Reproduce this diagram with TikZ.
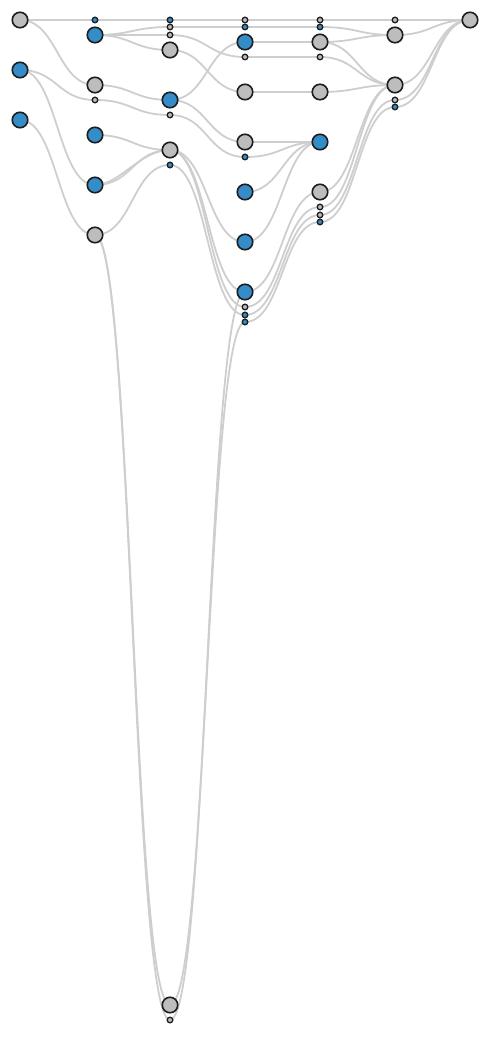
\documentclass[tikz,border=0pt]{standalone}
\usetikzlibrary{backgrounds}
\definecolor{nblue}{RGB}{52,140,201}
\definecolor{ngray}{RGB}{189,189,189}
\definecolor{edgec}{RGB}{206,206,206}
\definecolor{nstroke}{RGB}{30,30,30}
\tikzset{
  big/.style={circle, draw=nstroke, line width=1.6pt, minimum size=15.5pt, inner sep=0pt},
  sm/.style={circle, draw=nstroke, line width=1.3pt, minimum size=5.6pt, inner sep=0pt},
  bl/.style={fill=nblue},
  gr/.style={fill=ngray},
  link/.style={draw=edgec, line width=1.8pt}
}
\newcommand\lnk[2]{\draw[link] (#1.center) .. controls ([xshift=37.5pt]#1.center) and ([xshift=-37.5pt]#2.center) .. (#2.center);}
\begin{document}
\begin{tikzpicture}[x=1pt,y=-1pt]
\useasboundingbox (0,0) rectangle (490,1040);
% column A
\node[big,gr] (A20) at (20,20) {};
\node[big,bl] (A70) at (20,70) {};
\node[big,bl] (A120) at (20,120) {};
% column B
\node[sm,bl] (B20) at (95,20) {};
\node[big,bl] (B35) at (95,35) {};
\node[big,gr] (B85) at (95,85) {};
\node[sm,gr] (B100) at (95,100) {};
\node[big,bl] (B135) at (95,135) {};
\node[big,bl] (B185) at (95,185) {};
\node[big,gr] (B235) at (95,235) {};
% column C
\node[sm,bl] (C20) at (170,20) {};
\node[sm,gr] (C27) at (170,27) {};
\node[sm,gr] (C35) at (170,35) {};
\node[big,gr] (C50) at (170,50) {};
\node[big,bl] (C100) at (170,100) {};
\node[sm,gr] (C115) at (170,115) {};
\node[big,gr] (C150) at (170,150) {};
\node[sm,bl] (C165) at (170,165) {};
\node[big,gr] (C1005) at (170,1005) {};
\node[sm,gr] (C1020) at (170,1020) {};
% column D
\node[sm,gr] (D20) at (245,20) {};
\node[sm,bl] (D27) at (245,27) {};
\node[big,bl] (D42) at (245,42) {};
\node[sm,gr] (D57) at (245,57) {};
\node[big,gr] (D92) at (245,92) {};
\node[big,gr] (D142) at (245,142) {};
\node[sm,bl] (D157) at (245,157) {};
\node[big,bl] (D192) at (245,192) {};
\node[big,bl] (D242) at (245,242) {};
\node[big,bl] (D292) at (245,292) {};
\node[sm,gr] (D307) at (245,307) {};
\node[sm,bl] (D315) at (245,315) {};
\node[sm,bl] (D322) at (245,322) {};
% column E
\node[sm,gr] (E20) at (320,20) {};
\node[sm,bl] (E27) at (320,27) {};
\node[big,gr] (E42) at (320,42) {};
\node[sm,gr] (E57) at (320,57) {};
\node[big,gr] (E92) at (320,92) {};
\node[big,bl] (E142) at (320,142) {};
\node[big,gr] (E192) at (320,192) {};
\node[sm,gr] (E207) at (320,207) {};
\node[sm,gr] (E215) at (320,215) {};
\node[sm,bl] (E222) at (320,222) {};
% column F
\node[sm,gr] (F20) at (395,20) {};
\node[big,gr] (F35) at (395,35) {};
\node[big,gr] (F85) at (395,85) {};
\node[sm,gr] (F100) at (395,100) {};
\node[sm,bl] (F107) at (395,107) {};
% column G
\node[big,gr] (G20) at (470,20) {};
\begin{scope}[on background layer]
\lnk{A20}{B20}\lnk{B20}{C20}\lnk{C20}{D20}\lnk{D20}{E20}\lnk{E20}{F20}\lnk{F20}{G20}
\lnk{A20}{B85}
\lnk{A70}{B100}\lnk{A70}{B185}
\lnk{A120}{B235}
\lnk{B35}{C27}\lnk{B35}{C35}\lnk{B35}{C50}
\lnk{B85}{C100}\lnk{B100}{C115}
\lnk{B135}{C150}\lnk{B185}{C150}
\draw[link] (B185.center) .. controls (120,185) and (140,150) .. (C150.center);
\lnk{B235}{C165}\lnk{B235}{C1005}\lnk{B235}{C1020}
\lnk{C27}{D27}\lnk{C35}{D57}\lnk{C50}{D92}
\lnk{C100}{D42}\lnk{C100}{D142}\lnk{C115}{D157}
\lnk{C150}{D242}\lnk{C150}{D292}\lnk{C150}{D307}
\lnk{C165}{D315}
\lnk{C1005}{D322}\lnk{C1020}{D292}
\lnk{D27}{E27}\lnk{D42}{E42}\lnk{D57}{E57}\lnk{D92}{E92}
\lnk{D142}{E142}\lnk{D157}{E142}\lnk{D192}{E142}\lnk{D242}{E142}
\lnk{D292}{E192}\lnk{D307}{E207}\lnk{D315}{E215}\lnk{D322}{E222}
\lnk{E27}{F35}\lnk{E42}{F35}\lnk{E42}{F85}\lnk{E57}{F85}\lnk{E92}{F85}
\lnk{E192}{F85}\lnk{E207}{F85}\lnk{E215}{F100}\lnk{E222}{F107}
\lnk{F35}{G20}\lnk{F85}{G20}\lnk{F100}{G20}\lnk{F107}{G20}
\end{scope}
\end{tikzpicture}
\end{document}
